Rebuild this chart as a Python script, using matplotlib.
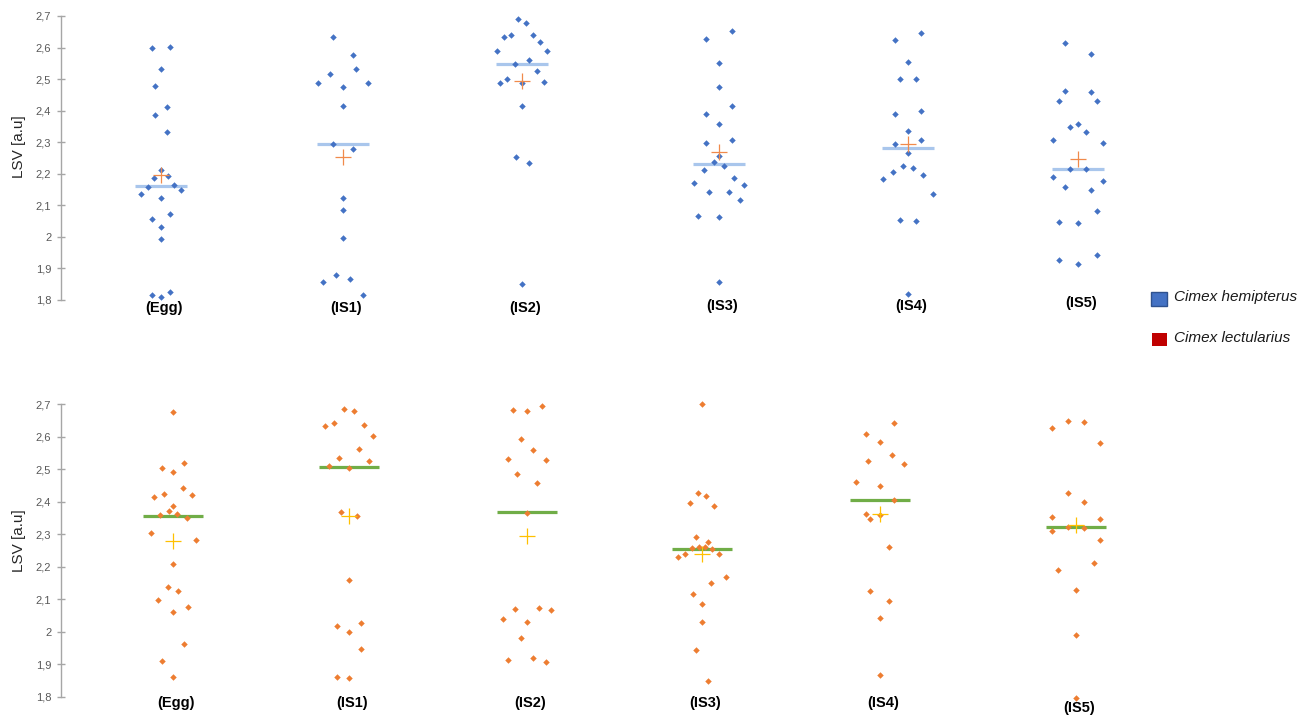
import numpy as np
import matplotlib
matplotlib.use('Agg')
import matplotlib.pyplot as plt
import matplotlib.transforms as mtransforms
from matplotlib.patches import Rectangle

plt.rcParams['font.family'] = ['Liberation Sans', 'DejaVu Sans']

categories = ['(Egg)', '(IS1)', '(IS2)', '(IS3)', '(IS4)', '(IS5)']

# Cimex hemipterus (top panel) - LSV values per stage
hemi_egg = [2.598, 2.602, 2.533, 2.478, 2.412, 2.385, 2.333, 2.213, 2.188, 2.194, 2.159,
            2.163, 2.136, 2.149, 2.123, 2.057, 2.074, 2.030, 1.993, 1.817, 1.811, 1.825]
hemi_is1 = [2.633, 2.576, 2.517, 2.531, 2.487, 2.487, 2.475, 2.416, 2.295, 2.279, 2.124,
            2.086, 1.998, 1.857, 1.878, 1.867, 1.817]
hemi_is2 = [2.692, 2.677, 2.633, 2.640, 2.639, 2.618, 2.590, 2.589, 2.547, 2.560, 2.525,
            2.489, 2.500, 2.487, 2.492, 2.414, 2.254, 2.233, 1.850]
hemi_is3 = [2.627, 2.651, 2.552, 2.474, 2.415, 2.389, 2.359, 2.298, 2.308, 2.257, 2.236,
            2.226, 2.213, 2.188, 2.172, 2.164, 2.141, 2.141, 2.116, 2.067, 2.063, 1.856]
hemi_is4 = [2.623, 2.647, 2.554, 2.501, 2.499, 2.390, 2.398, 2.337, 2.293, 2.306, 2.267,
            2.225, 2.218, 2.207, 2.195, 2.185, 2.137, 2.054, 2.050, 1.818]
hemi_is5 = [2.613, 2.579, 2.463, 2.460, 2.431, 2.432, 2.349, 2.359, 2.333, 2.307, 2.297,
            2.214, 2.214, 2.190, 2.178, 2.159, 2.149, 2.083, 2.048, 2.045, 1.926, 1.914, 1.942]
hemi_median = [2.162, 2.294, 2.547, 2.232, 2.281, 2.215]
hemi_mean = [2.196, 2.254, 2.494, 2.269, 2.294, 2.247]

# Cimex lectularius (bottom panel)
lect_egg = [2.676, 2.503, 2.518, 2.490, 2.442, 2.414, 2.423, 2.420, 2.387, 2.360, 2.370, 2.362,
            2.348, 2.303, 2.281, 2.208, 2.136, 2.126, 2.096, 2.077, 2.060, 1.962, 1.910, 1.862]
lect_is1 = [2.686, 2.678, 2.632, 2.643, 2.636, 2.601, 2.561, 2.533, 2.509, 2.503, 2.526,
            2.368, 2.356, 2.159, 2.016, 2.000, 2.027, 1.948, 1.862, 1.857]
lect_is2 = [2.682, 2.679, 2.694, 2.593, 2.558, 2.531, 2.529, 2.485, 2.457, 2.366, 2.069,
            2.073, 2.066, 2.039, 2.031, 1.979, 1.913, 1.918, 1.907]
lect_is3 = [2.700, 2.426, 2.418, 2.396, 2.387, 2.292, 2.276, 2.257, 2.261, 2.259, 2.253,
            2.230, 2.240, 2.239, 2.169, 2.149, 2.115, 2.084, 2.029, 1.945, 1.847]
lect_is4 = [2.643, 2.608, 2.584, 2.544, 2.524, 2.514, 2.459, 2.448, 2.404, 2.361, 2.345,
            2.358, 2.259, 2.124, 2.093, 2.042, 1.867]
lect_is5 = [2.627, 2.647, 2.644, 2.581, 2.425, 2.398, 2.354, 2.345, 2.309, 2.323, 2.318,
            2.282, 2.210, 2.189, 2.129, 1.990, 1.796]
lect_median = [2.356, 2.507, 2.367, 2.253, 2.405, 2.322]
lect_mean = [2.280, 2.356, 2.294, 2.238, 2.362, 2.327]

# horizontal spread of the dots (beeswarm layout, pixels)
hemi_jitter = [
    [-9, 9, 0, -6, 6, -6, 6, 0, -7, 7, -13, 13, -20, 20, 0, -9, 9, 0, 0, -9, 0, 9],
    [-10, 10, -13, 13, -25, 25, 0, 0, -10, 10, 0, 0, 0, -20, -7, 7, 20],
    [-4, 4, -18, -11, 11, 18, -25, 25, -7, 7, 15, -22, -15, 0, 22, 0, -6, 7, 0],
    [-13, 13, 0, 0, 13, -13, 0, -13, 13, 0, -5, 5, -15, 15, -25, 25, -10, 10, 21, -21, 0, 0],
    [-13, 13, 0, -8, 8, -13, 13, 0, -13, 13, 0, -5, 5, -15, 15, -25, 25, -8, 8, 0],
    [-13, 13, -13, 13, -19, 19, -8, 0, 8, -25, 25, -8, 8, -25, 25, -13, 13, 19, -19, 0, -19, 0, 19],
]
lect_jitter = [
    [0, -11, 11, 0, 10, -19, -9, 19, 0, -13, -4, 4, 14, -22, 23, 0, -5, 5, -15, 15, 0, 11, -11, 0],
    [-5, 5, -24, -15, 15, 24, 10, -10, -20, 0, 20, -8, 8, 0, -12, 0, 12, 12, -12, 0],
    [-14, 0, 15, -6, 6, -19, 19, -10, 10, 0, -12, 12, 24, -24, 0, -6, -19, 6, 19],
    [0, -4, 4, -12, 12, -6, 6, -10, -3, 3, 10, -24, -17, 17, 24, 9, -9, 0, 0, -6, 6],
    [14, -14, 0, 12, -12, 24, -24, 0, 14, -14, -10, 0, 9, -10, 9, 0, 0],
    [-24, -8, 8, 24, -8, 8, -24, 24, -24, -8, 8, 24, 18, -18, 0, 0, 0],
]

hemi_values = [hemi_egg, hemi_is1, hemi_is2, hemi_is3, hemi_is4, hemi_is5]
lect_values = [lect_egg, lect_is1, lect_is2, lect_is3, lect_is4, lect_is5]

# column centres (pixels) of each panel
top_centers = [161, 343, 522, 719, 908, 1078]
bottom_centers = [173, 349, 527, 702, 880, 1076]

W, H = 1302, 715
fig = plt.figure(figsize=(W / 100, H / 100), dpi=100)
fig.patch.set_facecolor('white')

x_left, x_right = 61, 1140


def make_panel(top_px, bottom_px, values, jitter, centers, median, mean,
               dot_color, med_color, mean_color, med_half, label_y, ylab_pos):
    ax = fig.add_axes([x_left / W, (H - bottom_px) / H, (x_right - x_left) / W,
                       (bottom_px - top_px) / H])
    ax.set_xlim(x_left, x_right)
    ax.set_ylim(1.8, 2.7)
    for s in ['top', 'right', 'bottom']:
        ax.spines[s].set_visible(False)
    ax.spines['left'].set_color('#A6A6A6')
    ax.spines['left'].set_linewidth(1.0)
    ax.set_xticks([])
    ticks = np.arange(1.8, 2.71, 0.1)
    ax.set_yticks(ticks)
    ax.set_yticklabels([('%.1f' % t).replace('.', ',').replace(',0', '') for t in ticks])
    ax.tick_params(axis='y', direction='inout', length=6, width=1, color='#A6A6A6',
                   labelsize=8, labelcolor='#595959', pad=4)
    ax.set_ylabel('LSV [a.u]', fontsize=11, color='#262626')
    ax.yaxis.set_label_coords(-0.0324, ylab_pos)

    for i, vals in enumerate(values):
        xs = centers[i] + np.array(jitter[i])
        ax.plot([centers[i] - med_half, centers[i] + med_half], [median[i]] * 2,
                color=med_color, lw=2.3, solid_capstyle='butt', zorder=2)
        ax.plot(xs, vals, 'D', color=dot_color, markersize=3.3, markeredgewidth=0,
                clip_on=False, zorder=3)
        ax.plot(centers[i], mean[i], '+', color=mean_color, markersize=11,
                markeredgewidth=0.9, zorder=4)

    trans = mtransforms.blended_transform_factory(ax.transData, fig.transFigure)
    for i, lab in enumerate(categories):
        ax.text(centers[i] + 3, (H - label_y[i]) / H, lab, transform=trans,
                ha='center', va='center', fontsize=10.5, fontweight='bold', color='black')
    return ax


make_panel(16, 300, hemi_values, hemi_jitter, top_centers, hemi_median, hemi_mean,
           '#4472C4', '#A9C6EC', '#F08A4B', 26, [308, 308, 308, 306, 306, 303], 0.539)
make_panel(404, 696.7, lect_values, lect_jitter, bottom_centers, lect_median, lect_mean,
           '#ED7D31', '#70AD47', '#FFC000', 30, [703, 703, 703, 703, 703, 708], 0.532)

# legend
fig.patches.append(Rectangle((1151 / W, (H - 306) / H), 16 / W, 14 / H,
                             transform=fig.transFigure, facecolor='#4472C4',
                             edgecolor='#2F528F', linewidth=1.0))
fig.patches.append(Rectangle((1152 / W, (H - 346) / H), 15 / W, 13 / H,
                             transform=fig.transFigure, facecolor='#C00000',
                             edgecolor='none'))
fig.text(1174 / W, (H - 297) / H, 'Cimex hemipterus', fontsize=11, style='italic',
         va='center', ha='left', color='#1a1a1a')
fig.text(1174 / W, (H - 338) / H, 'Cimex lectularius', fontsize=11, style='italic',
         va='center', ha='left', color='#1a1a1a')

fig.savefig('out.png', dpi=100)
